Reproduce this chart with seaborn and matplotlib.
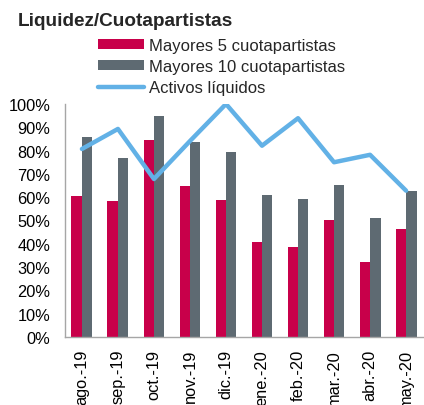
import matplotlib
matplotlib.use("Agg")
import matplotlib.pyplot as plt
import seaborn as sns
import pandas as pd
import numpy as np
from matplotlib.ticker import PercentFormatter

categories = ["ago.-19", "sep.-19", "oct.-19", "nov.-19", "dic.-19",
              "ene.-20", "feb.-20", "mar.-20", "abr.-20", "may.-20"]
mayores5 = [0.606, 0.585, 0.847, 0.649, 0.588, 0.406, 0.385, 0.501, 0.322, 0.465]
mayores10 = [0.857, 0.767, 0.947, 0.836, 0.793, 0.611, 0.592, 0.654, 0.512, 0.627]
activos = [0.807, 0.893, 0.678, 0.841, 1.000, 0.821, 0.939, 0.750, 0.782, 0.628]
series_names = ["Mayores 5 cuotapartistas", "Mayores 10 cuotapartistas", "Activos líquidos"]
colors = ["#C8004A", "#5E6A72", "#62B1E6"]

sns.set_theme(style="white")
plt.rcParams["font.family"] = ["Liberation Sans", "DejaVu Sans"]

df = pd.DataFrame({
    "mes": categories * 2,
    "valor": mayores5 + mayores10,
    "serie": [series_names[0]] * len(categories) + [series_names[1]] * len(categories),
})

fig = plt.figure(figsize=(4.24, 4.06), dpi=100)
ax = fig.add_axes([65 / 424, 68 / 406, (423 - 65) / 424, (338 - 105) / 406])

sns.barplot(data=df, x="mes", y="valor", hue="serie", order=categories,
            hue_order=series_names[:2], palette=colors[:2], width=0.58, gap=0,
            ax=ax, legend=True, linewidth=0, saturation=1)
sns.lineplot(x=np.arange(len(categories)), y=activos, ax=ax, color=colors[2],
             linewidth=3.2, label=series_names[2])

ax.set_xlim(-0.47, 9.47)
ax.set_ylim(0, 1.0)
ax.set_yticks(np.arange(0, 1.01, 0.1))
ax.yaxis.set_major_formatter(PercentFormatter(1.0, decimals=0))
ax.set_xlabel("")
ax.set_ylabel("")
ax.tick_params(axis="y", length=0, pad=10.5, labelsize=11.8, colors="black")
ax.tick_params(axis="x", length=0, pad=8.5, labelsize=11.8, colors="black", rotation=90)
for s in ["top", "right"]:
    ax.spines[s].set_visible(False)
for s in ["left", "bottom"]:
    ax.spines[s].set_color("#A6A6A6")
    ax.spines[s].set_linewidth(1.0)

handles, labels = ax.get_legend_handles_labels()
ax.get_legend().remove()
order = [labels.index(n) for n in series_names]
fig.legend([handles[i] for i in order], [labels[i] for i in order],
           loc="upper left", bbox_to_anchor=(98 / 424, 1 - 38.5 / 406),
           frameon=False, fontsize=12, handlelength=2.75, handleheight=0.55,
           handletextpad=0.3, labelspacing=0.39, borderpad=0, borderaxespad=0)

fig.text(18 / 424, 1 - 22 / 406, "Liquidez/Cuotapartistas", fontsize=13.7,
         fontweight="bold", va="center", ha="left")

fig.savefig("out.png", dpi=100)
